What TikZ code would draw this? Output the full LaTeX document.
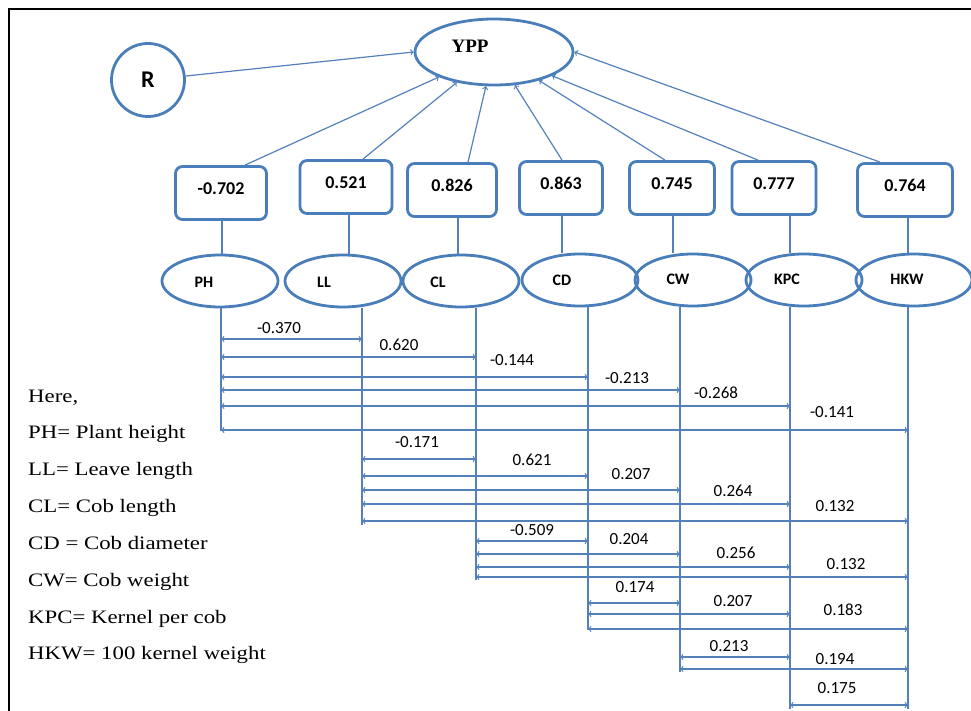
\documentclass[tikz,border=0pt]{standalone}
\usepackage{fontspec}
\setmainfont{Liberation Serif}
\newfontfamily\calfont{Carlito}
\newfontfamily\keyfont[FakeStretch=1.2]{Liberation Serif}
\usetikzlibrary{shapes.geometric}
\definecolor{shapeblue}{RGB}{74,126,187}
\definecolor{lineblue}{RGB}{84,128,188}

\begin{document}
\begin{tikzpicture}[x=1pt, y=-1pt,
	valbox/.style={draw=shapeblue, line width=2.8pt, rounded corners=7pt, minimum height=53pt, text depth=9pt, inner sep=0pt, font=\calfont\bfseries\fontsize{18}{20}\selectfont},
	varell/.style={draw=shapeblue, line width=2.8pt, ellipse, minimum width=116pt, minimum height=52pt, inner sep=0pt},
	varname/.style={font=\calfont\bfseries\fontsize{16}{18}\selectfont},
	link/.style={draw=lineblue, line width=1.2pt},
	coef/.style={font=\calfont\fontsize{17}{19}\selectfont},
	keytext/.style={anchor=base west, inner sep=0pt, font=\keyfont\fontsize{19}{22}\selectfont}]
	\useasboundingbox (0,0) rectangle (971,711);
	\draw[line width=2pt] (9,720) -- (9,9) -- (980,9);
	
	% result and residual
	\node[varell, minimum width=158pt, minimum height=66pt] (YPP) at (494,52) {};
	\node[font=\bfseries\fontsize{19}{21}\selectfont] (YPP-name) at (470,46) {YPP};
	\node[draw=shapeblue, line width=2.8pt, circle, minimum size=73pt, inner sep=0pt, font=\calfont\bfseries\fontsize{24}{26}\selectfont] (R) at (148,80) {R};
	\draw[link, ->] (R) -- (YPP.west);
	
	% direct effects
	\node[valbox, minimum width=91pt] (PH-box) at (221,193) {-0.702};
	\node[valbox, minimum width=92pt] (LL-box) at (346,187) {0.521};
	\node[valbox, minimum width=89pt] (CL-box) at (452,190) {0.826};
	\node[valbox, minimum width=83pt] (CD-box) at (561,188) {0.863};
	\node[valbox, minimum width=85pt] (CW-box) at (672,188) {0.745};
	\node[valbox, minimum width=84pt] (KPC-box) at (774,188) {0.777};
	\node[valbox, minimum width=95pt] (HKW-box) at (905,190) {0.764};
	\foreach \v/\dx in {PH/24, LL/17, CL/16, CD/1, CW/-7, KPC/-16}{
		\draw[link, ->] ([xshift=\dx pt]\v-box.north) -- (YPP);}
	\draw[link, ->] ([xshift=-25pt]HKW-box.north) -- (YPP.east);
	
	% traits
	\node[varell] (PH) at (220,281) {};
	\node[varell] (LL) at (343,281) {};
	\node[varell] (CL) at (461,281) {};
	\node[varell] (CD) at (580,280) {};
	\node[varell] (CW) at (693,280) {};
	\node[varell] (KPC) at (804,280) {};
	\node[varell] (HKW) at (914,280) {};
	\foreach \v/\x/\y in {PH/204/282, LL/324/282, CL/438/282, CD/562/280, CW/678/279, KPC/787/279, HKW/907/279}{
		\node[varname] (\v-name) at (\x,\y) {\v};}
	\foreach \v/\ux/\lx/\ly in {PH/222/221/431, LL/349/362/525, CL/458/476/580, CD/562/588/630, CW/673/680/672, KPC/790/790/709, HKW/908/908/709}{
		\draw[link] (\v-box.south -| \ux,0) -- (\v.north -| \ux,0);
		\coordinate (\v-end) at (\lx,\ly);
		\draw[link] (\v.south -| \v-end) -- (\v-end);}
	
	% correlations
	\foreach \a/\b/\y/\r/\lx/\ly [count=\i] in {PH/LL/339/-0.370/279/328, PH/CL/357/0.620/399/345, PH/CD/377/-0.144/512/360, PH/CW/390/-0.213/627/378, PH/KPC/406/-0.268/716/393, PH/HKW/430/-0.141/832/412,
		LL/CL/459/-0.171/417/442, LL/CD/476/0.621/532/460, LL/CW/490/0.207/631/474, LL/KPC/504/0.264/733/491, LL/HKW/521/0.132/835/506,
		CL/CD/541/-0.509/532/530, CL/CW/554/0.204/629/539, CL/KPC/567/0.256/736/553, CL/HKW/577/0.132/846/564,
		CD/CW/603/0.174/635/587, CD/KPC/614/0.207/733/601, CD/HKW/629/0.183/843/610,
		CW/KPC/657/0.213/729/646, CW/HKW/669/0.194/835/659,
		KPC/HKW/705/0.175/837/688}{
		\draw[link, <->] (\a-end |- 0,\y) -- (\b-end |- 0,\y);
		\node[coef] (coef\i) at (\lx,\ly) {\r};}
	
	% key
	\foreach \t [count=\i] in {{Here,}, {PH= Plant height}, {LL= Leave length}, {CL= Cob length}, {CD = Cob diameter}, {CW= Cob weight}, {KPC= Kernel per cob}, {HKW= 100 kernel weight}}{
		\node[keytext] (key\i) at (28, {402+36.85*(\i-1)}) {\t};}
\end{tikzpicture}
\end{document}
